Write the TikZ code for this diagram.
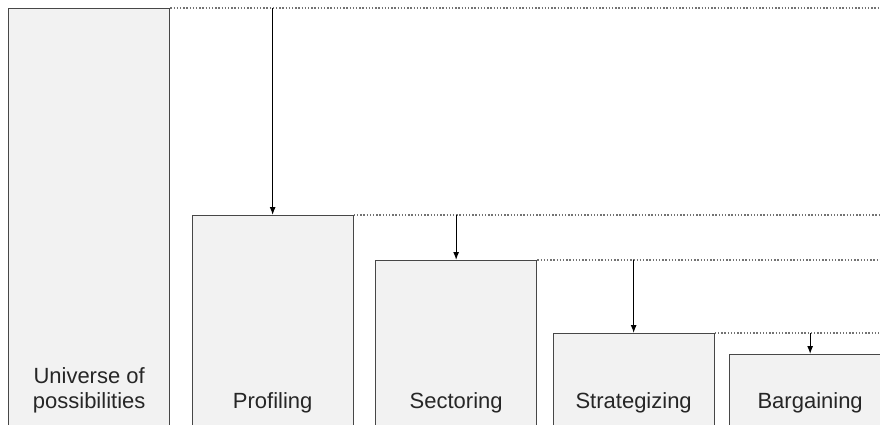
\documentclass[tikz,border=0pt]{standalone}
\usepackage{fontspec}
\setmainfont{Liberation Sans}
\usetikzlibrary{arrows.meta}

\begin{document}
\begin{tikzpicture}[x=1pt,y=-1pt,
    stage/.style ={rectangle, draw=black!72, fill=black!5, line width=1.3pt, inner sep=0pt, minimum width=161pt, anchor=north west},
    caption/.style ={anchor=base, align=center, inner sep=0pt, font=\fontsize{22}{25}\selectfont, text=black!85},
    level/.style ={black!55, line width=1.5pt, dash pattern=on 1.4pt off 1.8pt},
    drop/.style ={-{Latex[length=8pt,width=6pt]}, line width=1.1pt}]
   \clip (0,0) rectangle (880,425);
   \coordinate (R) at (880,0);
   \node[stage, minimum height=432pt] (U) at (8,8)     {};
   \node[stage, minimum height=225pt] (P) at (191.5,215) {};
   \node[stage, minimum height=180pt] (S) at (375,260)  {};
   \node[stage, minimum height=107pt] (T) at (552.5,333) {};
   \node[stage, minimum height=86pt]  (B) at (729,354)  {};
   \node[caption] (u) at (U.north |- 0,408) {Universe of\\possibilities};
   \node[caption] (p) at (P.north |- 0,408) {Profiling};
   \node[caption] (s) at (S.north |- 0,408) {Sectoring};
   \node[caption] (t) at (T.north |- 0,408) {Strategizing};
   \node[caption] (b) at (B.north |- 0,408) {Bargaining};
   % levels
   \draw[level] (U.north east) -- (U.north east -| R);
   \draw[level] (P.north east) -- (P.north east -| R);
   \draw[level] (S.north east) -- (S.north east -| R);
   \draw[level] (T.north east) -- (T.north east -| R);
   % drops
   \draw[drop] (P.north |- U.north) -- (P.north);
   \draw[drop] (S.north |- P.north) -- (S.north);
   \draw[drop] (T.north |- S.north) -- (T.north);
   \draw[drop] (B.north |- T.north) -- (B.north);
\end{tikzpicture}
\end{document}
